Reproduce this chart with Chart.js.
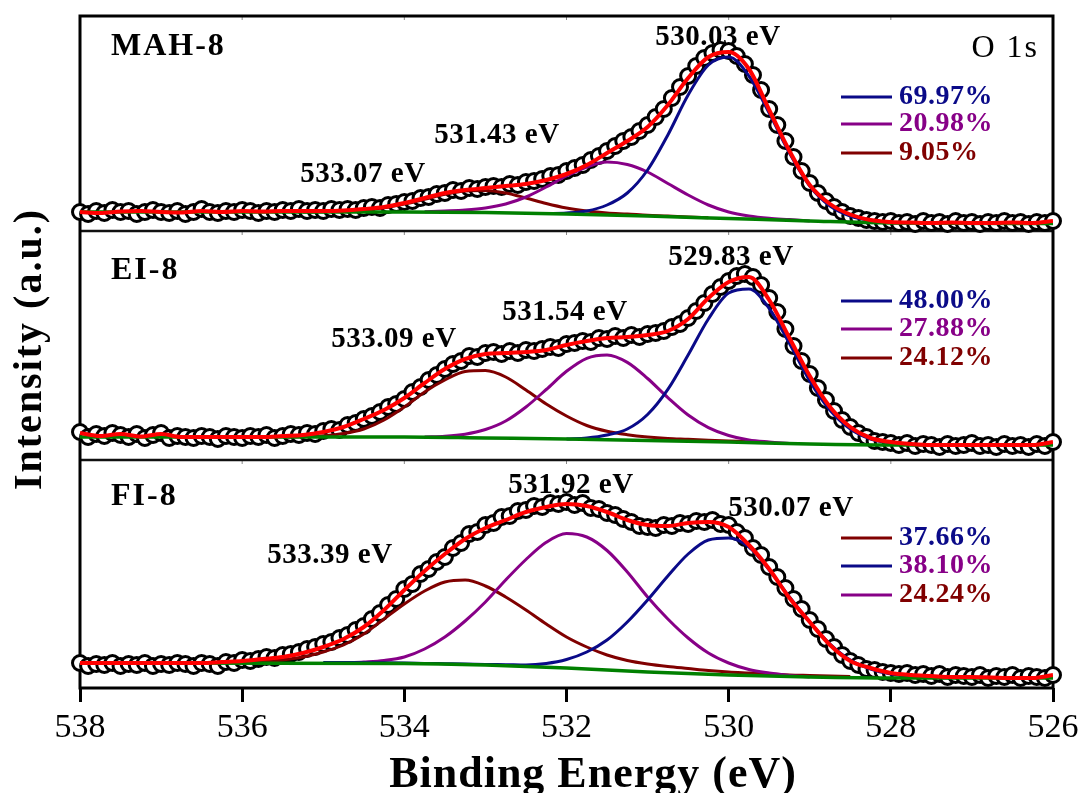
<!DOCTYPE html>
<html>
<head>
<meta charset="utf-8">
<script src="https://cdn.jsdelivr.net/npm/chart.js@4.4.1/dist/chart.umd.min.js"></script>
<style>
  html, body { margin: 0; padding: 0; background: #fff; }
  #wrap { width: 1090px; height: 793px; position: relative; }
</style>
</head>
<body>
<div id="wrap"><canvas id="xpsChart"></canvas></div>
<script>
const _ = null;

// measured points (circles), 0.1 eV step
const dataEnergy = [
  538.0, 537.9, 537.8, 537.7, 537.6, 537.5, 537.4, 537.3, 537.2, 537.1,
  537.0, 536.9, 536.8, 536.7, 536.6, 536.5, 536.4, 536.3, 536.2, 536.1,
  536.0, 535.9, 535.8, 535.7, 535.6, 535.5, 535.4, 535.3, 535.2, 535.1,
  535.0, 534.9, 534.8, 534.7, 534.6, 534.5, 534.4, 534.3, 534.2, 534.1,
  534.0, 533.9, 533.8, 533.7, 533.6, 533.5, 533.4, 533.3, 533.2, 533.1,
  533.0, 532.9, 532.8, 532.7, 532.6, 532.5, 532.4, 532.3, 532.2, 532.1,
  532.0, 531.9, 531.8, 531.7, 531.6, 531.5, 531.4, 531.3, 531.2, 531.1,
  531.0, 530.9, 530.8, 530.7, 530.6, 530.5, 530.4, 530.3, 530.2, 530.1,
  530.0, 529.9, 529.8, 529.7, 529.6, 529.5, 529.4, 529.3, 529.2, 529.1,
  529.0, 528.9, 528.8, 528.7, 528.6, 528.5, 528.4, 528.3, 528.2, 528.1,
  528.0, 527.9, 527.8, 527.7, 527.6, 527.5, 527.4, 527.3, 527.2, 527.1,
  527.0, 526.9, 526.8, 526.7, 526.6, 526.5, 526.4, 526.3, 526.2, 526.1,
  526.0
];

const mahData = [
  19, 17, 20, 18, 21, 19, 20, 17, 19, 21,
  19, 18, 20, 17, 19, 22, 19, 18, 20, 19,
  21, 20, 18, 20, 19, 21, 20, 22, 20, 21,
  20, 22, 21, 22, 21, 23, 24, 23, 26, 27,
  29, 30, 33, 34, 37, 38, 41, 40, 43, 42,
  44, 45, 44, 47, 46, 49, 50, 52, 55, 56,
  60, 63, 66, 71, 75, 80, 85, 90, 94, 100,
  106, 114, 122, 133, 144, 155, 165, 173, 178, 181,
  180, 175, 167, 156, 141, 122, 106, 90, 74, 60,
  48, 38, 30, 24, 19, 15, 13, 11, 10, 9,
  10, 8, 9, 7, 10, 8, 9, 7, 10, 8,
  9, 7, 9, 8, 10, 8, 9, 7, 9, 8,
  10
];

const eiData = [
  28, 23, 26, 24, 27, 25, 23, 26, 22, 25,
  27, 22, 24, 23, 22, 24, 23, 21, 24, 23,
  22, 24, 23, 25, 22, 24, 26, 25, 27, 26,
  29, 31, 30, 35, 37, 41, 44, 48, 53, 56,
  61, 68, 73, 80, 85, 91, 96, 99, 104, 103,
  107, 108, 106, 109, 107, 110, 109, 111, 113, 112,
  116, 117, 119, 118, 122, 121, 124, 122, 125, 123,
  126, 127, 129, 133, 136, 142, 149, 157, 166, 173,
  179, 184, 186, 183, 175, 162, 148, 131, 114, 99,
  86, 72, 60, 49, 40, 33, 27, 23, 19, 18,
  17, 15, 17, 14, 16, 15, 13, 16, 14, 15,
  17, 14, 15, 13, 16, 14, 15, 13, 16, 14,
  18
];

const fiData = [
  25, 22, 24, 23, 25, 22, 24, 23, 25, 22,
  24, 23, 25, 24, 22, 25, 24, 22, 26, 25,
  28, 27, 29, 31, 30, 33, 34, 36, 39, 41,
  44, 46, 50, 53, 58, 62, 69, 75, 83, 89,
  99, 104, 114, 119, 126, 131, 140, 145, 154, 156,
  163, 165, 171, 172, 177, 178, 182, 181, 185, 184,
  186, 183, 185, 180, 179, 175, 173, 169, 166, 162,
  161, 160, 163, 162, 165, 164, 167, 166, 168, 164,
  163, 156, 150, 140, 133, 121, 111, 100, 89, 79,
  68, 59, 49, 41, 33, 27, 23, 19, 18, 16,
  15, 14, 15, 13, 14, 12, 14, 11, 13, 12,
  11, 13, 10, 12, 11, 13, 10, 12, 11, 10,
  13
];

// fitted envelope and components, 0.25 eV step
const fitEnergy = [
  538, 537.75, 537.5, 537.25, 537, 536.75, 536.5,
  536.25, 536, 535.75, 535.5, 535.25, 535, 534.75,
  534.5, 534.25, 534, 533.75, 533.5, 533.25, 533,
  532.75, 532.5, 532.25, 532, 531.75, 531.5, 531.25,
  531, 530.75, 530.5, 530.25, 530, 529.75, 529.5,
  529.25, 529, 528.75, 528.5, 528.25, 528, 527.75,
  527.5, 527.25, 527, 526.75, 526.5, 526.25, 526
];

const mahFit = [
  19, 18, 19.5, 20, 19, 18.5, 20,
  19, 20, 19.5, 20, 20, 20, 20.5,
  22, 24, 28, 33, 38, 41, 43,
  45, 47, 51, 57, 66, 78, 90,
  104, 126, 153, 174, 179, 162, 121,
  80, 46, 27, 16.5, 11, 9, 8.5,
  8, 8.5, 8, 8, 8.5, 8, 10
];
const mahBlue = [
  _, _, _, _, _, _, _,
  _, _, _, _, _, _, _,
  _, _, _, _, _, _, _,
  _, _, 17.5, 18, 20, 26, 38,
  61, 96, 136, 166, 174, 155, 118,
  78, 45, 25, 15, 10.5, 8.5, 8,
  _, _, _, _, _, _, _
];
const mahPurple = [
  _, _, _, _, _, _, _,
  _, _, _, _, _, _, _,
  _, _, _, 19.2, 20, 21, 23,
  27, 34, 44, 55, 64, 69, 66.5,
  59, 47.5, 36, 26, 19, 15, 12.7,
  11.4, 10, _, _, _, _, _,
  _, _, _, _, _, _, _
];
const mahDarkRed = [
  _, _, _, _, _, _, _,
  _, _, _, _, 19, 19.3, 19.8,
  21, 23.2, 27, 31.7, 36.6, 40, 40.5,
  38, 33, 27.5, 23, 20, 18, 17,
  15.8, 15, 14, 13.3, _, _, _,
  _, _, _, _, _, _, _,
  _, _, _, _, _, _, _
];

const eiFit = [
  27, 24, 26, 23.5, 26, 23, 23,
  23, 23, 23, 24, 25, 28, 33,
  41, 50, 62, 77, 91, 101, 106,
  107, 108, 110, 115, 119, 122, 123,
  125, 129, 141, 162, 178, 183, 160,
  122, 84, 53, 33, 22, 18, 16,
  15, 15, 15, 15, 15, 15, 18
];
const eiBlue = [
  _, _, _, _, _, _, _,
  _, _, _, _, _, _, _,
  _, _, _, _, _, _, _,
  _, _, _, 21, 22, 25, 31,
  45.5, 70.6, 105, 141, 167, 171, 151.5,
  116.5, 79, 49.7, 31, 21, 17, 15.5,
  15, _, _, _, _, _, _
];
const eiPurple = [
  _, _, _, _, _, _, _,
  _, _, _, _, _, _, _,
  _, _, _, 23, 23.7, 25.8, 30.5,
  39, 53, 70.5, 88.7, 101.7, 105, 97.6,
  81.5, 62.4, 45, 32.4, 24.5, 20, 18,
  16.5, _, _, _, _, _, _,
  _, _, _, _, _, _, _
];
const eiDarkRed = [
  _, _, _, _, _, _, _,
  _, _, _, 23, 23.4, 24.3, 26.5,
  31, 40, 53, 68, 80, 88.4, 89.4,
  83, 70, 56, 44, 34.5, 28.7, 25.3,
  23, 21.5, 20.7, 19.8, 19, 18.3, 17.5,
  _, _, _, _, _, _, _,
  _, _, _, _, _, _, _
];

const fiFit = [
  25, 25, 25, 25, 25, 25, 25,
  26, 27, 29, 31, 35, 41, 49,
  61, 78, 98, 117, 134, 149, 160,
  168, 176, 181, 184, 182, 176, 168,
  163, 162, 165, 166, 161, 143, 119,
  90, 66, 43, 27, 20, 15, 13,
  12, 11, 11, 10.5, 10, 10, 13
];
const fiBlue = [
  _, _, _, _, _, _, _,
  _, _, _, _, _, 25.5, 25.5,
  25.3, 25.2, 25, 24.6, 24.3, 24, 23.5,
  23.3, 23, 24.5, 28.5, 36, 48, 66,
  88, 112, 134, 148, 150, 141, 118,
  91, 66, 44, 28, 19, 14, 11.5,
  10.5, 10, _, _, _, _, _
];
const fiPurple = [
  _, _, _, _, _, _, _,
  _, _, _, _, _, _, 25,
  26, 27.5, 31, 39, 51, 67, 86,
  108, 128.5, 145.7, 154.5, 151, 137.5, 116,
  91, 69, 50, 35, 25, 18.5, 15,
  12.5, 11, _, _, _, _, _,
  _, _, _, _, _, _, _
];
const fiDarkRed = [
  _, _, _, _, _, _, _,
  _, 25.5, 26.5, 28, 31, 36, 43,
  54, 69, 84, 97, 106, 108, 102,
  91, 78, 64, 51, 41, 33, 27.5,
  24, 21.5, 19.5, 17.5, 16, 15, 14,
  13, 12.5, 12, 11.5, _, _, _,
  _, _, _, _, _, _, _
];

// background lines
const baseEnergy = [538, 534, 533, 532, 531, 530, 529, 528, 526];
const mahBase = [19, 19, 18.5, 17, 15, 12.5, 10, 8, 7.5];
const eiBase = [23, 23, 22, 21, 19.5, 18, 16, 15, 15];
const fiBase = [25, 24.5, 23, 20, 16, 13, 11, 10, 10];

// labels
const sampleNames = ['MAH-8', 'EI-8', 'FI-8'];
const mahPeakLabels = ['530.03 eV', '531.43 eV', '533.07 eV'];
const eiPeakLabels = ['529.83 eV', '531.54 eV', '533.09 eV'];
const fiPeakLabels = ['530.07 eV', '531.92 eV', '533.39 eV'];
const mahShares = ['69.97%', '20.98%', '9.05%'];
const eiShares = ['48.00%', '27.88%', '24.12%'];
const fiShares = ['37.66%', '38.10%', '24.24%'];
const coreLevel = 'O 1s';
const xTitle = 'Binding Energy (eV)';
const yTitle = 'Intensity (a.u.)';

const BLUE = '#0a0a88', PURPLE = '#870087', DARKRED = '#800000', GREEN = '#008000', RED = '#ff0000';

function pts(xs, ys) {
  return xs.map((x, i) => ({x: x, y: ys[i]}));
}

function panelSets(axis, data, fit, blue, purple, darkred, base) {
  const line = (label, ys, color, width, order, xs) => ({
    label: label, yAxisID: axis, data: pts(xs || fitEnergy, ys),
    borderColor: color, borderWidth: width, pointRadius: 0, fill: false,
    cubicInterpolationMode: 'monotone', spanGaps: false, order: order
  });
  return [
    {
      label: axis + ' data', yAxisID: axis, data: pts(dataEnergy, data),
      showLine: false, pointRadius: 7.5, pointBorderWidth: 3,
      pointBackgroundColor: '#fff', pointBorderColor: '#000', clip: false, order: 5
    },
    line(axis + ' darkred', darkred, DARKRED, 3, 4),
    line(axis + ' purple', purple, PURPLE, 3, 3),
    line(axis + ' blue', blue, BLUE, 3, 2),
    line(axis + ' base', base, GREEN, 3.5, 1, baseEnergy),
    line(axis + ' fit', fit, RED, 4, 0)
  ];
}

const datasets = [].concat(
  panelSets('yMAH', mahData, mahFit, mahBlue, mahPurple, mahDarkRed, mahBase),
  panelSets('yEI', eiData, eiFit, eiBlue, eiPurple, eiDarkRed, eiBase),
  panelSets('yFI', fiData, fiFit, fiBlue, fiPurple, fiDarkRed, fiBase)
);

function panelAxis(max) {
  return {
    type: 'linear', position: 'left', stack: 'panels', stackWeight: max,
    min: 0, max: max, display: true,
    ticks: {display: false}, grid: {display: false}, border: {display: false},
    afterFit: function(s) { s.width = 0; }
  };
}

// panel text placement
const panelText = [
  {axis: 'yMAH', name: [111, 55], peaks: mahPeakLabels, peakPos: [[718, 45], [497, 143], [363, 182]],
   shares: mahShares, legendY: [97, 124, 153], lineColors: [BLUE, PURPLE, DARKRED], textColors: [BLUE, PURPLE, DARKRED]},
  {axis: 'yEI', name: [111, 279], peaks: eiPeakLabels, peakPos: [[731, 265], [565, 320], [394, 347]],
   shares: eiShares, legendY: [301, 329, 358], lineColors: [BLUE, PURPLE, DARKRED], textColors: [BLUE, PURPLE, DARKRED]},
  {axis: 'yFI', name: [111, 505], peaks: fiPeakLabels, peakPos: [[791, 516], [571, 493], [330, 563]],
   shares: fiShares, legendY: [538, 566, 595], lineColors: [DARKRED, BLUE, PURPLE], textColors: [BLUE, PURPLE, DARKRED]}
];

function txt(ctx, s, x, y, font, color, align, spacing) {
  ctx.font = font;
  ctx.fillStyle = color;
  ctx.textAlign = align;
  ctx.textBaseline = 'alphabetic';
  if ('letterSpacing' in ctx) ctx.letterSpacing = (spacing || 0) + 'px';
  ctx.fillText(s, x, y);
}

const panelDecor = {
  id: 'panelDecor',
  beforeDatasetsDraw(chart) {
    const ctx = chart.ctx, area = chart.chartArea, xs = chart.scales.x;
    ctx.save();
    // small inner ticks on top of every panel
    ctx.strokeStyle = '#888';
    ctx.lineWidth = 1;
    for (const p of panelText) {
      const s = chart.scales[p.axis];
      for (let v = 528; v <= 536; v += 2) {
        const px = xs.getPixelForValue(v);
        ctx.beginPath(); ctx.moveTo(px, s.top); ctx.lineTo(px, s.top + 4); ctx.stroke();
      }
    }
    // separators between panels
    ctx.strokeStyle = '#111';
    ctx.lineWidth = 2.5;
    for (const id of ['yEI', 'yFI']) {
      const s = chart.scales[id];
      ctx.beginPath(); ctx.moveTo(area.left, s.top); ctx.lineTo(area.right, s.top); ctx.stroke();
    }
    ctx.strokeStyle = '#000';
    ctx.lineWidth = 3;
    ctx.strokeRect(area.left, area.top, area.right - area.left, area.bottom - area.top);
    ctx.restore();
  },
  afterDraw(chart) {
    const ctx = chart.ctx;
    ctx.save();
    const serif = '"Liberation Serif", "Times New Roman", serif';
    for (let i = 0; i < panelText.length; i++) {
      const p = panelText[i];
      txt(ctx, sampleNames[i], p.name[0], p.name[1], 'bold 32px ' + serif, '#000', 'left', 2);
      p.peaks.forEach((s, k) => {
        txt(ctx, s, p.peakPos[k][0], p.peakPos[k][1], 'bold 29px ' + serif, '#000', 'center', 0.5);
      });
      p.shares.forEach((s, k) => {
        const y = p.legendY[k];
        ctx.strokeStyle = p.lineColors[k];
        ctx.lineWidth = 3;
        ctx.beginPath(); ctx.moveTo(841, y); ctx.lineTo(892, y); ctx.stroke();
        txt(ctx, s, 899, y + 7, 'bold 28px ' + serif, p.textColors[k], 'left', 0.5);
      });
    }
    txt(ctx, coreLevel, 1039, 57, '32px ' + serif, '#000', 'right', 2);
    txt(ctx, xTitle, 593, 787, 'bold 44px ' + serif, '#000', 'center', 1);
    ctx.translate(31, 349);
    ctx.rotate(-Math.PI / 2);
    ctx.font = 'bold 40px ' + serif;
    ctx.fillStyle = '#000';
    ctx.textAlign = 'center';
    ctx.textBaseline = 'middle';
    if ('letterSpacing' in ctx) ctx.letterSpacing = '2px';
    ctx.fillText(yTitle, 0, 0);
    ctx.restore();
  }
};

Chart.defaults.font.family = '"Liberation Serif", "Times New Roman", serif';
Chart.defaults.color = '#000';

new Chart(document.getElementById('xpsChart').getContext('2d'), {
  type: 'line',
  data: {datasets: datasets},
  options: {
    responsive: true,
    maintainAspectRatio: false,
    animation: false,
    layout: {padding: {left: 80, right: 37, top: 16, bottom: 0}},
    plugins: {legend: {display: false}, tooltip: {enabled: false}},
    scales: {
      x: {
        type: 'linear', position: 'bottom', min: 526, max: 538, reverse: true,
        ticks: {stepSize: 2, font: {size: 34}, color: '#000', padding: 6, maxRotation: 0},
        grid: {drawOnChartArea: false, drawTicks: true, tickLength: 14, lineWidth: 3, color: '#000'},
        border: {display: false},
        afterFit: function(s) { s.height = 105; }
      },
      yFI: panelAxis(228),
      yEI: panelAxis(229),
      yMAH: panelAxis(215)
    }
  },
  plugins: [panelDecor]
});
</script>
</body>
</html>
